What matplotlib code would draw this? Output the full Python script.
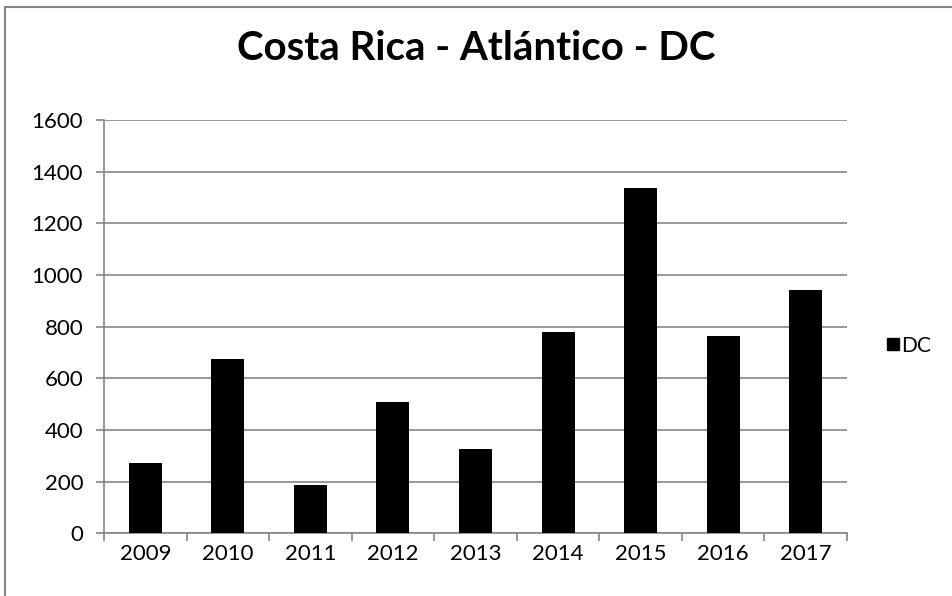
import matplotlib
matplotlib.use("Agg")
import matplotlib.pyplot as plt
from matplotlib.lines import Line2D
import numpy as np

# data
years = ["2009", "2010", "2011", "2012", "2013", "2014", "2015", "2016", "2017"]
dc = [271, 675, 186, 509, 328, 780, 1335, 762, 941]

plt.rcParams["font.family"] = ["Lato", "DejaVu Sans"]
GREY = "#868686"

fig = plt.figure(figsize=(9.53, 5.96), dpi=100)
ax = fig.add_axes([0.1091, 0.1052, 0.7797, 0.6935])

x = np.arange(len(years))
ax.bar(x, dc, width=0.4, color="black", zorder=3, label="DC")

ax.set_xlim(-0.5, len(years) - 0.5)
ax.set_ylim(0, 1600)
ax.set_yticks(range(0, 1601, 200))
ax.set_xticks(x)
ax.set_xticklabels(years)
ax.set_xticks(np.arange(-0.5, len(years)), minor=True)
ax.tick_params(axis="x", which="major", length=0, pad=8, labelsize=16)
ax.tick_params(axis="x", which="minor", length=6, width=1.2, color=GREY, direction="out")
ax.tick_params(axis="y", length=6, width=1.2, color=GREY, labelsize=16, pad=9)

ax.grid(axis="y", color=GREY, linewidth=1.2, zorder=0)
for s in ["top", "right"]:
    ax.spines[s].set_visible(False)
for s in ["left", "bottom"]:
    ax.spines[s].set_color(GREY)
    ax.spines[s].set_linewidth(1.2)

fig.text(0.5, 0.918, "Costa Rica - Atlántico - DC", ha="center", va="center",
         fontsize=29, fontweight="bold")

handle = Line2D([], [], marker="s", color="black", linestyle="none", markersize=8)
fig.legend([handle], ["DC"], loc="center left", bbox_to_anchor=(0.931, 0.42),
           frameon=False, fontsize=15, handletextpad=0.05, handlelength=0.6,
           borderpad=0, borderaxespad=0)

# chart frame (left and top edges visible)
fig.add_artist(Line2D([0.0055, 0.0055], [0, 0.988], color=GREY, linewidth=1.5,
                      transform=fig.transFigure))
fig.add_artist(Line2D([0.0055, 1], [0.988, 0.988], color=GREY, linewidth=1.5,
                      transform=fig.transFigure))

fig.savefig("out.png", dpi=100)
